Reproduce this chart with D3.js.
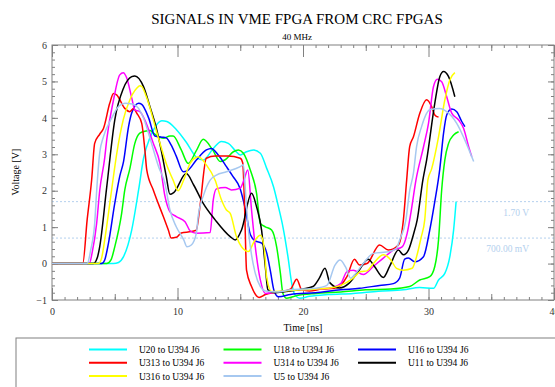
<!DOCTYPE html>
<html>
<head>
<meta charset="utf-8">
<script src="https://cdn.jsdelivr.net/npm/d3@7"></script>
<style>
  body { margin: 0; background: #fff; }
  text { font-family: "Liberation Serif", "DejaVu Serif", serif; }
</style>
</head>
<body>
<script>
// waveforms: [time ns, voltage V]
var u20 = [[0,0],[4.9,0],[5.3,0.03],[5.7,0.19],[6.35,0.92],[6.9,2.02],[7.3,2.9],[7.8,3.45],[8.2,3.74],[8.75,3.92],[9.15,3.9],[9.9,3.68],[10.7,3.33],[11.5,2.92],[12.05,2.84],[12.85,3.16],[13.5,3.35],[14.05,3.3],[14.6,3.1],[15.0,2.98],[15.5,3.07],[16.05,3.12],[16.6,3.03],[17.1,2.62],[17.65,2.11],[18.05,1.55],[18.4,1.01],[18.8,0.19],[19.1,-0.54],[19.35,-0.86],[19.75,-0.95],[20.5,-0.9],[22,-0.85],[24,-0.82],[26,-0.76],[28,-0.72],[29.3,-0.66],[30.4,-0.68],[30.8,-0.45],[31.3,-0.27],[31.7,0.19],[32,0.92],[32.2,1.7]];
var u18 = [[0,0],[4.36,0],[4.7,0.1],[5.0,0.46],[5.55,1.38],[5.8,2.02],[6.2,2.6],[6.6,3.3],[7.0,3.58],[7.4,3.63],[7.8,3.65],[8.2,3.55],[8.87,3.44],[9.4,3.5],[9.65,3.5],[10.3,3.12],[10.85,2.75],[11.5,3.1],[12.05,3.41],[12.8,3.12],[13.4,2.8],[13.8,2.85],[14.45,3.07],[14.85,3.12],[15.25,3.03],[15.8,2.57],[16.3,1.93],[16.6,1.1],[17,1.01],[17.5,0.92],[17.9,0.46],[18.2,-0.27],[18.4,-0.82],[18.7,-0.95],[19.5,-0.88],[21,-0.82],[23,-0.78],[25,-0.72],[27,-0.7],[28.5,-0.63],[29.3,-0.45],[30.1,-0.36],[30.5,-0.08],[30.8,0.65],[31.05,2.02],[31.3,2.84],[31.6,3.3],[32,3.53],[32.4,3.62]];
var u16 = [[0,0],[3.96,0],[4.2,0.1],[4.5,0.56],[5.0,1.65],[5.4,2.4],[5.7,2.8],[6.1,3.76],[6.35,4.13],[6.9,4.4],[7.15,4.37],[7.7,4.0],[8.2,3.5],[8.75,3.47],[9.1,3.45],[9.5,3.25],[9.9,2.95],[10.45,2.52],[10.8,2.55],[11.5,2.84],[12.3,3.12],[12.7,3.16],[13.25,2.98],[13.9,2.66],[14.4,2.4],[15.0,2.05],[15.4,1.5],[15.8,0.8],[16.2,0.62],[16.7,0.56],[17.1,0.3],[17.4,-0.2],[17.7,-0.75],[18.05,-0.91],[19,-0.85],[21,-0.8],[23,-0.72],[24.5,-0.68],[26.1,-0.6],[27.2,-0.55],[27.7,-0.4],[28.1,0.12],[28.4,0.15],[28.9,0.05],[29.6,0.19],[30.1,0.92],[30.5,1.7],[30.9,2.6],[31.2,3.58],[31.45,4.08],[31.85,4.24],[32.25,4.17],[32.65,3.9],[32.9,3.76]];
var u313 = [[0,0],[2.45,0],[2.8,1.2],[3.16,2.3],[3.4,3.3],[3.8,3.55],[4.1,3.71],[4.6,4.4],[4.9,4.67],[5.15,4.63],[5.8,4.26],[6.2,4.17],[6.5,4.26],[6.75,4.13],[7.15,3.85],[7.4,3.12],[7.55,2.57],[8.07,2.02],[8.87,1.29],[9.27,0.92],[9.5,0.7],[9.9,0.72],[10.3,0.84],[11.1,0.88],[11.5,0.92],[11.8,1.6],[12.3,2.89],[13,2.95],[14,2.95],[15,2.89],[15.2,2.76],[15.35,1.5],[15.5,-0.18],[15.9,-0.63],[16.5,-0.93],[17,-0.85],[18,-0.78],[19,-0.7],[19.5,-0.43],[19.9,-0.72],[20.5,-0.75],[21.5,-0.7],[22.5,-0.68],[23,-0.6],[23.5,-0.36],[24.1,0.12],[24.5,-0.04],[25.1,0.0],[26.1,0.51],[26.8,0.37],[27.6,0.51],[28.0,1.2],[28.26,2.29],[28.5,3.21],[28.8,3.48],[29.3,4.12],[29.85,4.5],[30.25,4.31],[30.5,4.08],[30.8,4.02]];
var u314 = [[0,0],[2.97,0],[3.2,0.3],[3.56,1.11],[3.8,2.0],[4.2,2.9],[4.36,3.4],[4.9,4.49],[5.4,5.18],[5.68,5.24],[5.95,5.1],[6.35,4.55],[6.6,4.22],[7.0,4.17],[7.4,3.94],[8.07,3.3],[8.6,2.75],[9.0,1.85],[9.4,1.42],[9.9,1.29],[10.6,1.15],[11.0,0.9],[11.5,0.83],[12.6,0.85],[12.85,1.75],[13.1,2.05],[13.8,2.09],[14.3,2.02],[15.0,2.07],[15.3,2.3],[15.6,2.57],[15.9,1.47],[16.2,0.46],[16.6,-0.45],[17,-0.82],[18,-0.78],[20,-0.72],[22,-0.68],[23,-0.55],[23.5,-0.22],[24,-0.18],[24.8,-0.3],[25.6,-0.08],[26.4,0.15],[27.2,0.37],[27.9,0.46],[28.3,0.83],[28.6,1.4],[29.0,2.29],[29.6,3.2],[30,3.85],[30.4,4.86],[30.7,5.06],[31.05,4.99],[31.45,4.58],[31.85,4.13],[32.4,3.94],[32.8,3.71],[33.2,3.21],[33.45,2.93]];
var u11 = [[0,0],[3.3,0],[3.6,0.15],[3.8,0.46],[4.36,2.1],[5.0,3.94],[5.68,4.8],[6.35,5.13],[6.6,5.15],[7.3,4.85],[7.8,4.31],[8.35,3.67],[8.75,3.03],[9.1,2.4],[9.4,1.9],[9.7,1.95],[10.7,2.47],[11.3,2.15],[12.05,1.65],[13,1.2],[14.2,0.74],[14.6,0.65],[15.1,0.92],[15.9,1.93],[16.3,1.56],[16.7,0.92],[17,-0.09],[17.2,-0.72],[17.8,-0.8],[19,-0.75],[20,-0.7],[20.8,-0.63],[21.3,-0.4],[21.75,-0.13],[22.15,-0.53],[22.9,-0.67],[23.7,-0.53],[24.4,-0.22],[25.2,0.12],[25.7,-0.08],[26.4,-0.38],[26.9,-0.08],[27.6,0.37],[28.0,0.24],[28.4,0.37],[28.8,0.8],[29.1,1.2],[29.55,2.29],[29.85,2.84],[30.5,4.4],[30.9,5.13],[31.2,5.27],[31.6,5.13],[32.1,4.58]];
var u316 = [[0,0],[3.7,0],[3.95,0.15],[4.2,0.65],[4.75,2.02],[5.15,3.0],[5.68,3.95],[6.2,4.49],[6.75,4.81],[7.0,4.88],[7.15,4.86],[7.55,4.55],[8.35,3.6],[9.15,2.7],[9.65,2.29],[10.05,2.0],[10.5,2.3],[11.0,2.75],[11.5,2.92],[11.65,2.93],[12.3,2.71],[13,2.29],[13.5,1.75],[13.9,1.47],[14.2,1.38],[14.7,0.74],[15.1,0.46],[15.65,0.33],[16.1,0.6],[16.6,0.78],[16.9,0.46],[17.1,-0.36],[17.5,-0.77],[18.5,-0.75],[20,-0.72],[22,-0.68],[23,-0.6],[24,-0.4],[24.6,-0.22],[25.1,-0.2],[25.6,0.0],[26.4,0.24],[27.0,0.1],[27.45,-0.13],[28,-0.18],[28.7,-0.13],[29.05,0.19],[29.4,0.7],[29.7,1.2],[29.95,2.29],[30.25,2.6],[30.8,3.48],[31.3,4.49],[31.7,5.04],[32.1,5.24]];
var u5 = [[0,0],[2.8,0],[3.1,0.4],[3.4,1.1],[3.56,2.0],[3.8,3.03],[4.1,3.48],[4.75,3.99],[5.3,4.31],[5.8,4.4],[6.4,4.38],[6.9,4.26],[7.3,3.99],[7.8,3.45],[8.5,2.65],[9.0,2.2],[9.4,1.47],[9.9,1.01],[10.5,0.65],[10.75,0.46],[11.1,0.51],[11.5,0.83],[11.65,1.3],[12.1,1.9],[12.6,2.29],[13.1,2.43],[13.9,2.52],[15.0,2.66],[15.25,2.71],[15.45,1.8],[15.65,0.92],[16.2,-0.27],[16.6,-0.63],[17,-0.75],[18,-0.78],[19,-0.72],[20,-0.7],[21,-0.68],[21.9,-0.6],[22.55,-0.04],[22.95,0.1],[23.4,-0.1],[23.8,-0.4],[24.1,-0.31],[24.8,0.0],[25.6,0.28],[26.9,0.33],[27.45,0.42],[27.7,0.65],[28.2,1.2],[28.5,2.0],[28.8,2.48],[29.05,3.21],[29.45,3.76],[30.1,4.22],[30.9,4.26],[31.45,4.17],[32.25,3.85],[32.9,3.39],[33.6,2.8]];

var seriesNames = ["U20 to U394 J6", "U18 to U394 J6", "U16 to U394 J6",
                   "U313 to U394 J6", "U314 to U394 J6", "U11 to U394 J6",
                   "U316 to U394 J6", "U5 to U394 J6"];
var seriesData = [u20, u18, u16, u313, u314, u11, u316, u5];

var xTicks = [0, 10, 20, 30, 40];
var yTicks = [-1, 0, 1, 2, 3, 4, 5, 6];
var refLevels = [1.7, 0.7];
var refLabels = ["1.70 V", "700.00 mV"];

var colors = ["#00ffff", "#00ff00", "#0000ff", "#ff0000", "#ff00ff", "#000000", "#ffff00", "#a6c8f0"];
var frameColor = "#808080";

var svg = d3.select("body").append("svg")
    .attr("width", 555)
    .attr("height", 387);

var x = d3.scaleLinear().domain([0, 40]).range([52, 554]);
var y = d3.scaleLinear().domain([-1, 6]).range([300, 45]);

// titles
svg.append("text")
    .attr("x", 297).attr("y", 24)
    .attr("text-anchor", "middle")
    .style("font-size", "15px")
    .text("SIGNALS IN VME FPGA FROM CRC FPGAS");
svg.append("text")
    .attr("x", 297).attr("y", 40)
    .attr("text-anchor", "middle")
    .style("font-size", "9px")
    .text("40 MHz");

// dashed reference levels
svg.selectAll(".ref")
    .data(refLevels)
    .enter()
    .append("line")
    .attr("class", "ref")
    .attr("x1", x(0)).attr("x2", x(40))
    .attr("y1", function(d) { return y(d); })
    .attr("y2", function(d) { return y(d); })
    .attr("stroke", "#b4d0ee")
    .attr("stroke-dasharray", "2,2");
svg.selectAll(".refLabel")
    .data(refLevels)
    .enter()
    .append("text")
    .attr("class", "refLabel")
    .attr("x", 529)
    .attr("y", function(d) { return y(d) + 14; })
    .attr("text-anchor", "end")
    .style("font-size", "9.5px")
    .style("fill", "#b4d0ee")
    .text(function(d, i) { return refLabels[i]; });

// tick groups: minor / medium / major, all pointing inward
function xAxisGroup(values, len, labels) {
    var bottom = svg.append("g")
        .attr("transform", "translate(0,300)")
        .call(d3.axisBottom(x).tickValues(values).tickSize(-len).tickPadding(8)
            .tickFormat(labels ? d3.format("d") : ""));
    var top = svg.append("g")
        .attr("transform", "translate(0,45)")
        .call(d3.axisTop(x).tickValues(values).tickSize(-len).tickFormat(""));
    [bottom, top].forEach(function(g) {
        g.select(".domain").remove();
        g.selectAll("line").attr("stroke", frameColor);
        g.selectAll("text").style("font-size", "10px").style("font-family", "Liberation Serif, serif").attr("fill", "#333");
    });
}
xAxisGroup(d3.range(0, 41, 1), 3, false);
xAxisGroup(d3.range(5, 40, 10), 6, false);
xAxisGroup(xTicks, 12, true);

function yAxisGroup(values, len, labels) {
    var left = svg.append("g")
        .attr("transform", "translate(52,0)")
        .call(d3.axisLeft(y).tickValues(values).tickSize(-len).tickPadding(5)
            .tickFormat(labels ? d3.format("d") : ""));
    var right = svg.append("g")
        .attr("transform", "translate(554,0)")
        .call(d3.axisRight(y).tickValues(values).tickSize(-len).tickFormat(""));
    [left, right].forEach(function(g) {
        g.select(".domain").remove();
        g.selectAll("line").attr("stroke", frameColor);
        g.selectAll("text").style("font-size", "10px").style("font-family", "Liberation Serif, serif").attr("fill", "#333");
    });
}
yAxisGroup(d3.range(-1, 6.01, 0.2).map(function(v) { return Math.round(v * 10) / 10; }), 3, false);
yAxisGroup(yTicks, 6, true);

// frame
svg.append("rect")
    .attr("x", x(0)).attr("y", y(6))
    .attr("width", x(40) - x(0))
    .attr("height", y(-1) - y(6))
    .attr("fill", "none")
    .attr("stroke", frameColor);

// waveforms
var line = d3.line()
    .x(function(d) { return x(d[0]); })
    .y(function(d) { return y(d[1]); })
    .curve(d3.curveMonotoneX);

svg.selectAll(".wave")
    .data(seriesData)
    .enter()
    .append("path")
    .attr("class", "wave")
    .attr("d", line)
    .attr("fill", "none")
    .attr("stroke", function(d, i) { return colors[i]; })
    .attr("stroke-width", 1.5);

// axis titles
svg.append("text")
    .attr("x", x(20)).attr("y", 331)
    .attr("text-anchor", "middle")
    .style("font-size", "10px")
    .text("Time [ns]");
svg.append("text")
    .attr("transform", "translate(19,172) rotate(-90)")
    .attr("text-anchor", "middle")
    .style("font-size", "10px")
    .text("Voltage [V]");

// legend box
svg.append("rect")
    .attr("x", 16).attr("y", 338)
    .attr("width", 560).attr("height", 60)
    .attr("fill", "none")
    .attr("stroke", frameColor);

var legend = svg.selectAll(".legend")
    .data(seriesNames)
    .enter()
    .append("g")
    .attr("class", "legend")
    .attr("transform", function(d, i) {
        return "translate(" + (89 + (i % 3) * 134.5) + "," + (349.5 + Math.floor(i / 3) * 13.3) + ")";
    });
legend.append("line")
    .attr("x1", 0).attr("x2", 38)
    .attr("stroke", function(d, i) { return colors[i]; })
    .attr("stroke-width", 2);
legend.append("text")
    .attr("x", 50).attr("y", 3.5)
    .style("font-size", "9.5px")
    .text(function(d) { return d; });
</script>
</body>
</html>
